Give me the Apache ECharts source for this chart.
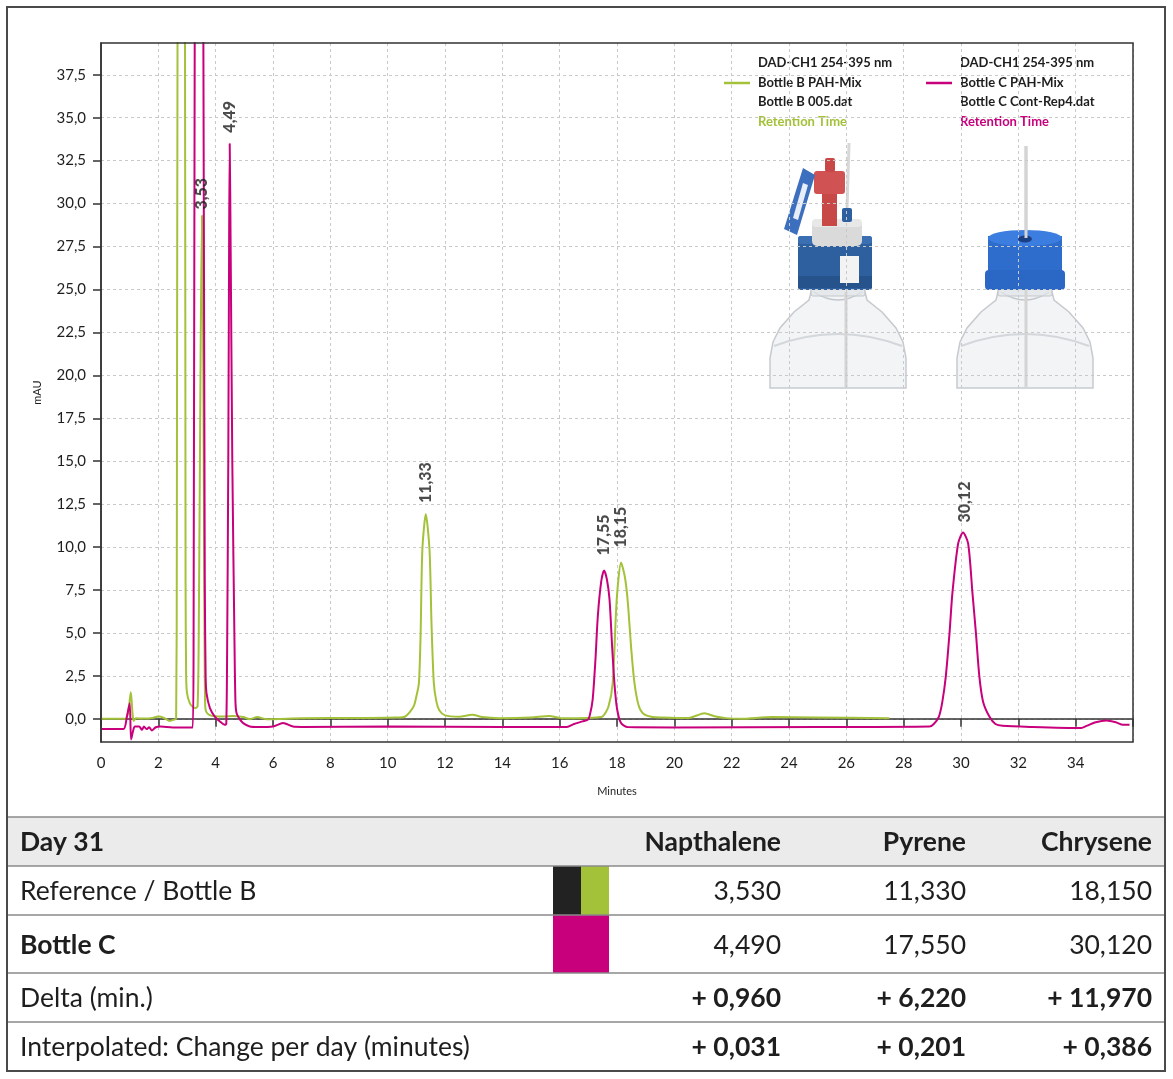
<!DOCTYPE html>
<html><head><meta charset="utf-8">
<script src="https://cdn.jsdelivr.net/npm/echarts@6/dist/echarts.min.js"></script>
<style>html,body{margin:0;padding:0;background:#fff}#c{width:1173px;height:1079px}</style>
</head><body><div id="c"></div>
<script>
// ---------- data ----------
const yTicks = [0, 2.5, 5, 7.5, 10, 12.5, 15, 17.5, 20, 22.5, 25, 27.5, 30, 32.5, 35, 37.5];
const xTicks = [0, 2, 4, 6, 8, 10, 12, 14, 16, 18, 20, 22, 24, 26, 28, 30, 32, 34];

// Bottle B PAH-Mix  [minutes, mAU]
const bottleB = [
  [0,0],[0.5,0],[0.85,0],[0.95,0.4],[1.04,1.55],[1.1,0.3],[1.14,-0.12],[1.22,0.03],[1.5,0.02],[1.8,0.05],
  [2.0,0.13],[2.2,0.05],[2.4,-0.12],[2.55,-0.05],[2.62,0],
  [2.645,10],[2.67,40],[2.75,80],[2.85,80],[2.93,40],[2.95,8],[2.97,2.5],[3.0,1.5],[3.1,0.9],[3.2,0.7],[3.3,0.62],[3.37,0.75],
  [3.41,5],[3.47,20],[3.52,29.3],[3.57,20],[3.61,5],[3.63,1.0],[3.66,0.45],[3.75,0.25],[3.91,0.17],[4.26,0.13],
  [4.6,0.17],[4.96,0.1],[5.19,-0.02],[5.45,0.1],[5.77,-0.02],[7,0.03],[9,0.05],[10.3,0.07],[10.6,0.12],
  [10.9,0.7],[11.0,1.3],[11.09,2.08],[11.15,5],[11.21,9.84],[11.33,11.92],[11.46,9.84],[11.53,5.5],[11.61,2.08],
  [11.7,1.0],[11.8,0.5],[12.0,0.2],[12.5,0.12],[12.95,0.23],[13.3,0.1],[13.9,0.04],[15.0,0.08],[15.64,0.17],
  [16.05,0.04],[17.0,0.05],[17.3,0.08],[17.5,0.13],[17.7,0.7],[17.85,2.08],[17.99,6.93],[18.14,9.1],[18.27,8.3],
  [18.37,6.93],[18.5,4.0],[18.61,2.08],[18.75,0.8],[18.9,0.33],[19.2,0.12],[19.6,0.08],[20.5,0.05],[21.05,0.33],
  [21.4,0.15],[21.8,0.04],[22.3,0.0],[23.4,0.1],[25,0.08],[27.5,0.04]
];

// Bottle C PAH-Mix  [minutes, mAU]
const bottleC = [
  [0,-0.6],[0.78,-0.6],[0.9,0.1],[1.0,0.9],[1.05,-1.2],[1.12,-0.7],[1.18,-0.45],[1.33,-0.45],[1.43,-0.64],
  [1.5,-0.45],[1.59,-0.6],[1.68,-0.49],[1.77,-0.68],[1.91,-0.49],[2.08,-0.45],[2.5,-0.5],[3.2,-0.5],
  [3.23,5],[3.27,40],[3.35,80],[3.45,80],[3.57,40],[3.62,8],[3.65,2.5],[3.68,1.5],[3.8,0.62],[3.97,0.13],
  [4.15,-0.16],[4.32,-0.35],[4.37,-0.3],
  [4.40,4],[4.44,15],[4.47,28],[4.49,33.49],[4.52,28],[4.58,15],[4.66,4],[4.69,1.0],[4.73,0.33],
  [4.85,-0.05],[4.96,-0.25],[5.19,-0.45],[5.5,-0.48],[6.0,-0.45],[6.35,-0.25],[6.7,-0.45],[7,-0.47],
  [10,-0.45],[14,-0.47],[16.25,-0.47],[16.5,-0.3],[16.8,-0.15],[16.98,-0.05],[17.05,0.2],[17.15,1.1],
  [17.25,3.5],[17.33,5.96],[17.45,8.0],[17.55,8.64],[17.65,8.1],[17.74,6.93],[17.83,4.2],[17.91,2.08],
  [18.0,0.6],[18.14,-0.25],[18.37,-0.48],[20,-0.5],[25,-0.48],[28.9,-0.45],[29.05,-0.3],[29.23,0.13],
  [29.35,1.0],[29.47,2.47],[29.6,5.0],[29.7,7.32],[29.9,10.2],[30.07,10.85],[30.25,10.2],[30.4,7.32],
  [30.52,5.0],[30.64,2.47],[30.77,1.0],[30.99,0.13],[31.2,-0.3],[31.45,-0.41],[32.5,-0.48],[34.19,-0.54],
  [34.4,-0.4],[34.7,-0.2],[35.07,-0.1],[35.4,-0.2],[35.65,-0.35],[35.88,-0.35]
];

// retention-time peak labels [minutes, peak height, text]
const peaksB = [[3.53, 29.3, '3,53'], [11.33, 11.92, '11,33'], [18.15, 9.1, '18,15']];
const peaksC = [[4.49, 33.49, '4,49'], [17.55, 8.64, '17,55'], [30.12, 10.85, '30,12']];

// legend text
const legendB = ['DAD-CH1 254-395 nm', 'Bottle B PAH-Mix', 'Bottle B 005.dat', 'Retention Time'];
const legendC = ['DAD-CH1 254-395 nm', 'Bottle C PAH-Mix', 'Bottle C Cont-Rep4.dat', 'Retention Time'];

// table
const tableTitle = 'Day 31';
const tableColumns = ['Napthalene', 'Pyrene', 'Chrysene'];
const tableRowNames = ['Reference / Bottle B', 'Bottle C', 'Delta (min.)', 'Interpolated: Change per day (minutes)'];
const refValues = ['3,530', '11,330', '18,150'];
const bottleCValues = ['4,490', '17,550', '30,120'];
const deltaValues = ['+ 0,960', '+ 6,220', '+ 11,970'];
const perDayValues = ['+ 0,031', '+ 0,201', '+ 0,386'];

// ---------- styles ----------
const FONT = 'Lato, "Noto Sans", sans-serif';
const GREEN = '#a3c23a';
const MAGENTA = '#c8007c';
const INK = '#1e1e1e';
const AXIS = '#333';
const GRID = {left: 101, top: 43, right: 1133, bottom: 742};

const chart = echarts.init(document.getElementById('c'), null, {renderer: 'canvas'});

const fmt = v => v.toFixed(1).replace('.', ',');

function peakSeries(list, gaps) {
  return {
    type: 'scatter', symbolSize: 0, silent: true, z: 5,
    data: list.map((p, i) => ({value: [p[0], p[1]], name: p[2],
      label: {distance: gaps[i]}})),
    label: {
      show: true, position: 'top', rotate: 90, align: 'left', verticalAlign: 'middle',
      formatter: p => p.name, color: INK, fontFamily: FONT, fontWeight: 900, fontSize: 16
    }
  };
}

// ---- bottle drawings (decoration) ----
function glass(cx) {
  const l = cx - 68, r = cx + 68;
  return [
    {type: 'polygon', shape: {points: [[cx-26,288],[cx-29,300],[l+24,312],[l+10,328],[l+3,342],[l,358],[l,388],
      [r,388],[r,358],[r-3,342],[r-10,328],[r-24,312],[cx+29,300],[cx+26,288]]},
      style: {fill: 'rgba(232,235,238,0.55)', stroke: '#c6cacf', lineWidth: 1.5}},
    {type: 'bezierCurve', shape: {x1: l + 4, y1: 346, x2: r - 4, y2: 346, cpx1: cx, cpy1: 322},
      style: {fill: 'none', stroke: '#d3d6da', lineWidth: 2}},
    {type: 'bezierCurve', shape: {x1: cx - 24, y1: 292, x2: cx + 24, y2: 292, cpx1: cx, cpy1: 308},
      style: {fill: 'none', stroke: '#c3c7cc', lineWidth: 1.5}},
    {type: 'rect', shape: {x: cx - 27, y: 288, width: 54, height: 8, r: 2},
      style: {fill: 'rgba(225,228,232,0.7)', stroke: '#c3c7cc', lineWidth: 1}}
  ];
}

const bottleGraphics = [
  // left bottle
  ...glass(838),
  {type: 'line', shape: {x1: 846, y1: 292, x2: 846, y2: 388}, style: {stroke: '#d4d4d4', lineWidth: 3}},
  {type: 'line', shape: {x1: 847, y1: 210, x2: 849, y2: 143}, style: {stroke: '#d8d8d8', lineWidth: 3}},
  {type: 'rect', shape: {x: 798, y: 236, width: 74, height: 54, r: 3}, style: {fill: '#2e5f9e'}},
  {type: 'rect', shape: {x: 798, y: 236, width: 74, height: 8, r: 3}, style: {fill: '#3a6fb2'}},
  {type: 'rect', shape: {x: 798, y: 276, width: 74, height: 12}, style: {fill: '#26538c'}},
  {type: 'rect', shape: {x: 840, y: 256, width: 19, height: 27}, style: {fill: '#f3f3f3'}},
  {type: 'rect', shape: {x: 812, y: 219, width: 50, height: 27, r: 5}, style: {fill: '#dadada'}},
  {type: 'rect', shape: {x: 812, y: 219, width: 50, height: 8, r: 4}, style: {fill: '#e8e8e8'}},
  {type: 'rect', shape: {x: 822, y: 190, width: 15, height: 36}, style: {fill: '#c84848'}},
  {type: 'rect', shape: {x: 814, y: 171, width: 31, height: 23, r: 3}, style: {fill: '#d05252'}},
  {type: 'rect', shape: {x: 825, y: 158, width: 10, height: 14, r: 2}, style: {fill: '#c84848'}},
  {type: 'rect', shape: {x: 842, y: 208, width: 10, height: 14, r: 2}, style: {fill: '#2e5f9e'}},
  {type: 'polygon', shape: {points: [[784, 229], [797, 235], [815, 175], [803, 168]]}, style: {fill: '#3d6fbf'}},
  {type: 'polygon', shape: {points: [[793, 218], [798, 220], [808, 185], [803, 183]]}, style: {fill: '#e8eef8'}},
  // right bottle
  ...glass(1025),
  {type: 'line', shape: {x1: 1026, y1: 146, x2: 1026, y2: 388}, style: {stroke: '#d4d4d4', lineWidth: 3}},
  {type: 'rect', shape: {x: 988, y: 236, width: 74, height: 40}, style: {fill: '#2f6dcc'}},
  {type: 'rect', shape: {x: 985, y: 270, width: 80, height: 20, r: 4}, style: {fill: '#2b68c6'}},
  {type: 'circle', x: 1025, y: 238, scaleY: 8 / 37, shape: {cx: 0, cy: 0, r: 37}, style: {fill: '#3c7ee0'}},
  {type: 'circle', x: 1025, y: 239, scaleY: 0.5, shape: {cx: 0, cy: 0, r: 7}, style: {fill: '#1b3f85'}},
  {type: 'line', shape: {x1: 1026, y1: 146, x2: 1026, y2: 238}, style: {stroke: '#d4d4d4', lineWidth: 3}}
];

// ---- legend graphics ----
function legendBlock(x, lines, color) {
  const out = [];
  const ys = [63, 83, 102, 122];
  lines.forEach((t, i) => out.push({type: 'text', x: x, y: ys[i], style: {
    text: t, fill: i === 3 ? color : INK, font: `bold 13px ${FONT}`, textVerticalAlign: 'middle'}}));
  out.push({type: 'line', shape: {x1: x - 34, y1: 83, x2: x - 8, y2: 83}, style: {stroke: color, lineWidth: 2.5}});
  return out;
}

// ---- table graphics ----
const colRight = [781, 966, 1152];
const rowTop = [817, 866, 915, 973, 1022, 1070];
function tableGraphics() {
  const g = [];
  g.push({type: 'rect', shape: {x: 8, y: rowTop[0], width: 1157, height: rowTop[1] - rowTop[0]}, style: {fill: '#ebebeb'}});
  const mid = i => (rowTop[i] + rowTop[i + 1]) / 2 + 1;
  const txt = (t, x, y, bold, align) => ({type: 'text', x, y, style: {text: t, fill: INK,
    font: `${bold ? 'bold ' : ''}26.5px ${FONT}`, textAlign: align, textVerticalAlign: 'middle'}});
  g.push(txt(tableTitle, 20, mid(0), true, 'left'));
  tableColumns.forEach((c, j) => g.push(txt(c, colRight[j], mid(0), true, 'right')));
  const rows = [[refValues, false], [bottleCValues, false], [deltaValues, true], [perDayValues, true]];
  tableRowNames.forEach((n, i) => {
    g.push(txt(n, 20, mid(i + 1), i === 1, 'left'));
    rows[i][0].forEach((v, j) => g.push(txt(v, colRight[j], mid(i + 1), rows[i][1], 'right')));
  });
  g.push({type: 'rect', shape: {x: 553, y: rowTop[1], width: 28, height: rowTop[2] - rowTop[1]}, style: {fill: '#222'}});
  g.push({type: 'rect', shape: {x: 581, y: rowTop[1], width: 28, height: rowTop[2] - rowTop[1]}, style: {fill: GREEN}});
  g.push({type: 'rect', shape: {x: 553, y: rowTop[2], width: 56, height: rowTop[3] - rowTop[2]}, style: {fill: MAGENTA}});
  for (let i = 0; i < 5; i++) {
    g.push({type: 'line', shape: {x1: 8, y1: rowTop[i], x2: 1165, y2: rowTop[i]}, style: {stroke: '#8a8a8a', lineWidth: 1.5}});
  }
  g.push({type: 'rect', shape: {x: 7, y: 7, width: 1158, height: 1064}, style: {fill: 'none', stroke: '#4a4a4a', lineWidth: 2}});
  return g;
}

const option = {
  backgroundColor: '#fff',
  animation: false,
  textStyle: {fontFamily: FONT},
  grid: {left: GRID.left, right: 1173 - GRID.right, top: GRID.top, bottom: 1079 - GRID.bottom,
    show: false},
  xAxis: {
    type: 'value', min: 0, max: 36, interval: 2,
    name: 'Minutes', nameLocation: 'middle', nameGap: 44,
    nameTextStyle: {fontSize: 11, color: INK, fontFamily: FONT},
    axisLine: {show: true, lineStyle: {color: AXIS, width: 1.5}},
    axisTick: {show: true, length: 8, lineStyle: {color: AXIS, width: 1.5}},
    axisLabel: {margin: 14, fontSize: 15, color: INK, fontFamily: FONT,
      formatter: v => (xTicks.indexOf(v) >= 0 ? String(v) : '')},
    splitLine: {show: true, lineStyle: {color: '#c9c9c9', type: [3, 3], width: 1}}
  },
  yAxis: {
    type: 'value', min: -1.35, max: 39.35,
    name: 'mAU', nameLocation: 'middle', nameGap: 58, nameRotate: 90,
    nameTextStyle: {fontSize: 11, color: INK, fontFamily: FONT},
    axisLine: {show: true, lineStyle: {color: AXIS, width: 1.5}},
    axisTick: {show: true, length: 8, customValues: yTicks, lineStyle: {color: AXIS, width: 1.5}},
    axisLabel: {margin: 15, fontSize: 15, color: INK, fontFamily: FONT, customValues: yTicks, formatter: fmt},
    splitLine: {show: true, lineStyle: {color: '#c9c9c9', type: [3, 3], width: 1}}
  },
  series: [
    {type: 'line', name: 'Bottle B PAH-Mix', data: bottleB, showSymbol: false, smooth: 0.25,
      lineStyle: {color: GREEN, width: 2}, itemStyle: {color: GREEN}, z: 3, clip: true},
    {type: 'line', name: 'Bottle C PAH-Mix', data: bottleC, showSymbol: false, smooth: 0.25,
      lineStyle: {color: MAGENTA, width: 2}, itemStyle: {color: MAGENTA}, z: 4, clip: true},
    peakSeries(peaksB, [6, 11, 15]),
    peakSeries(peaksC, [11, 15, 10])
  ],
  graphic: [
    // plot frame drawn over the split lines
    {type: 'rect', z: 100, silent: true,
      shape: {x: GRID.left, y: GRID.top, width: GRID.right - GRID.left, height: GRID.bottom - GRID.top},
      style: {fill: 'none', stroke: AXIS, lineWidth: 1.5}},
    ...bottleGraphics,
    ...legendBlock(758, legendB, GREEN),
    ...legendBlock(960, legendC, MAGENTA),
    ...tableGraphics()
  ]
};
chart.setOption(option);
</script></body></html>
